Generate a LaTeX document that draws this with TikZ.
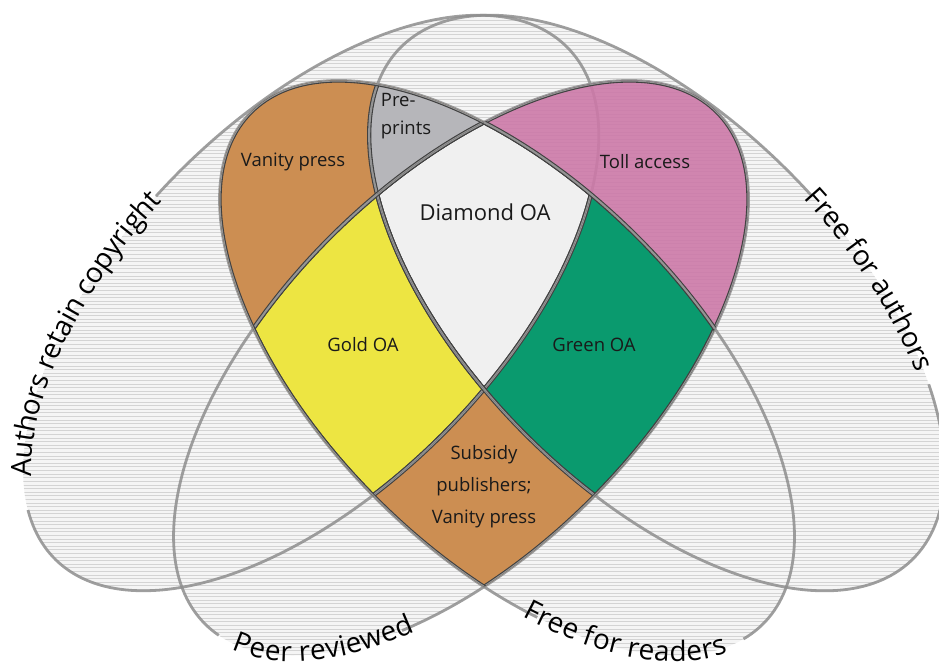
\documentclass[tikz,border=0pt]{standalone}
\usepackage{fontspec}
\setmainfont{Open Sans}
\usetikzlibrary{decorations.text}
\definecolor{cVan}{HTML}{CC8E52}
\definecolor{cGold}{HTML}{EDE542}
\definecolor{cGreen}{HTML}{0A9A6E}
\definecolor{cToll}{HTML}{CC79A8}
\definecolor{cPre}{HTML}{B6B6BA}
\definecolor{cDia}{HTML}{F0F0F0}
\definecolor{hatchbg}{HTML}{F5F5F5}
\definecolor{hatchln}{HTML}{D4D4D4}
\definecolor{outc}{HTML}{8E8E8E}
\definecolor{txt}{HTML}{1A1A1A}
\newcommand\outerfont{\fontsize{28}{30}\selectfont}
\tikzset{
  eA/.style={shift={(311,364)},rotate=45},
  eB/.style={shift={(657,364)},rotate=-45},
  eC/.style={shift={(461,299)},rotate=45},
  eD/.style={shift={(507,299)},rotate=-45},
  outl/.style={draw=outc,line width=2.8pt,draw opacity=0.85},
  dbl/.style={draw=black!75,line width=1.1pt,double=black!42,double distance=2.1pt},
  lab/.style={text=txt,font=\fontsize{18.5}{28}\selectfont,inner sep=0pt},
}
\newcommand\hatchall{\fill[hatchbg] (0,0) rectangle (939,667);
  \foreach \yy in {2,5.6,...,667} \draw[hatchln,line width=1pt] (0,\yy) -- (939,\yy);}
\begin{document}
\begin{tikzpicture}[x=1pt,y=1pt]
\useasboundingbox (0,0) rectangle (939,667);
% hatched background inside each ellipse
\begin{scope}\clip[eA] (0,0) ellipse[x radius=362pt,y radius=186pt];\hatchall\end{scope}
\begin{scope}\clip[eB] (0,0) ellipse[x radius=362pt,y radius=186pt];\hatchall\end{scope}
\begin{scope}\clip[eC] (0,0) ellipse[x radius=362pt,y radius=185pt];\hatchall\end{scope}
\begin{scope}\clip[eD] (0,0) ellipse[x radius=362pt,y radius=185pt];\hatchall\end{scope}
% outer outlines with gaps for labels
\draw[outl,eA] (163.2:362pt and 186pt) arc[start angle=163.2,end angle=455.4,x radius=362pt,y radius=186pt];
\draw[outl,eB] (84.6:362pt and 186pt) arc[start angle=84.6,end angle=406.4,x radius=362pt,y radius=186pt];
\draw[outl,eC] (231.1:362pt and 185pt) arc[start angle=231.1,end angle=545.5,x radius=362pt,y radius=185pt];
\draw[outl,eD] (352.4:362pt and 185pt) arc[start angle=352.4,end angle=663.1,x radius=362pt,y radius=185pt];
% coloured regions (painter's order)
\begin{scope}\clip[eA] (0,0) ellipse[x radius=362pt,y radius=186pt];\clip[eD] (0,0) ellipse[x radius=362pt,y radius=185pt];
  \fill[cVan] (0,0) rectangle (939,667);\end{scope}
\begin{scope}\clip[eA] (0,0) ellipse[x radius=362pt,y radius=186pt];\clip[eB] (0,0) ellipse[x radius=362pt,y radius=186pt];\clip[eD] (0,0) ellipse[x radius=362pt,y radius=185pt];
  \fill[cPre] (0,0) rectangle (939,667);\end{scope}
\begin{scope}\clip[eB] (0,0) ellipse[x radius=362pt,y radius=186pt];\clip[eC] (0,0) ellipse[x radius=362pt,y radius=185pt];
  \fill[cToll,fill opacity=0.9] (0,0) rectangle (939,667);\end{scope}
\begin{scope}\clip[eC] (0,0) ellipse[x radius=362pt,y radius=185pt];\clip[eD] (0,0) ellipse[x radius=362pt,y radius=185pt];
  \fill[cVan] (0,0) rectangle (939,667);\end{scope}
\begin{scope}\clip[eA] (0,0) ellipse[x radius=362pt,y radius=186pt];\clip[eC] (0,0) ellipse[x radius=362pt,y radius=185pt];\clip[eD] (0,0) ellipse[x radius=362pt,y radius=185pt];
  \fill[cGold] (0,0) rectangle (939,667);\end{scope}
\begin{scope}\clip[eB] (0,0) ellipse[x radius=362pt,y radius=186pt];\clip[eC] (0,0) ellipse[x radius=362pt,y radius=185pt];\clip[eD] (0,0) ellipse[x radius=362pt,y radius=185pt];
  \fill[cGreen] (0,0) rectangle (939,667);\end{scope}
\begin{scope}\clip[eA] (0,0) ellipse[x radius=362pt,y radius=186pt];\clip[eB] (0,0) ellipse[x radius=362pt,y radius=186pt];\clip[eC] (0,0) ellipse[x radius=362pt,y radius=185pt];\clip[eD] (0,0) ellipse[x radius=362pt,y radius=185pt];
  \fill[cDia] (0,0) rectangle (939,667);\end{scope}
% double borders inside the coloured area
\begin{scope}\clip[eC] (0,0) ellipse[x radius=362pt,y radius=185pt];\clip[eD] (0,0) ellipse[x radius=362pt,y radius=185pt];
  \draw[dbl,eA] (0,0) ellipse[x radius=362pt,y radius=186pt];
  \draw[dbl,eB] (0,0) ellipse[x radius=362pt,y radius=186pt];
  \draw[dbl,eC] (0,0) ellipse[x radius=362pt,y radius=185pt];
  \draw[dbl,eD] (0,0) ellipse[x radius=362pt,y radius=185pt];
\end{scope}
\begin{scope}\clip[eA] (0,0) ellipse[x radius=362pt,y radius=186pt];\clip[eD] (0,0) ellipse[x radius=362pt,y radius=185pt];
  \draw[dbl,eA] (0,0) ellipse[x radius=362pt,y radius=186pt];
  \draw[dbl,eB] (0,0) ellipse[x radius=362pt,y radius=186pt];
  \draw[dbl,eC] (0,0) ellipse[x radius=362pt,y radius=185pt];
  \draw[dbl,eD] (0,0) ellipse[x radius=362pt,y radius=185pt];
\end{scope}
\begin{scope}\clip[eB] (0,0) ellipse[x radius=362pt,y radius=186pt];\clip[eC] (0,0) ellipse[x radius=362pt,y radius=185pt];
  \draw[dbl,eB] (0,0) ellipse[x radius=362pt,y radius=186pt];
  \draw[dbl,eC] (0,0) ellipse[x radius=362pt,y radius=185pt];
  \draw[dbl,eD] (0,0) ellipse[x radius=362pt,y radius=185pt];
\end{scope}
% region labels
\node[lab] (vanity) at (293,505) {Vanity press};
\node[lab,align=left] (pre) at (406,551) {Pre-\\prints};
\node[lab] (toll) at (645,505) {Toll access};
\node[lab,font=\fontsize{22}{26}\selectfont] (diamond) at (485,455) {Diamond OA};
\node[lab] (gold) at (363,322) {Gold OA};
\node[lab] (green) at (594,322) {Green OA};
\node[lab,align=center,font=\fontsize{18.5}{32}\selectfont] (subsidy) at (484,180) {Subsidy\\publishers;\\Vanity press};
% ellipse labels along the outlines
\path[decorate,decoration={text along path,text align=center,raise=-8pt,text={|\outerfont|Authors retain copyright}}]
  plot[domain=176:83,samples=90,variable=\t] ({311+0.70711*(362*cos(\t)-186*sin(\t))},{364+0.70711*(362*cos(\t)+186*sin(\t))});
\path[decorate,decoration={text along path,text align=center,raise=-8pt,text={|\outerfont|Free for authors}}]
  plot[domain=97:34,samples=90,variable=\t] ({657+0.70711*(362*cos(\t)+186*sin(\t))},{364+0.70711*(-362*cos(\t)+186*sin(\t))});
\path[decorate,decoration={text along path,text align=center,raise=-6pt,text={|\outerfont|Peer reviewed}}]
  plot[domain=174:243,samples=90,variable=\t] ({461+0.70711*(362*cos(\t)-185*sin(\t))},{299+0.70711*(362*cos(\t)+185*sin(\t))});
\path[decorate,decoration={text along path,text align=center,raise=-6pt,text={|\outerfont|Free for readers}}]
  plot[domain=291:364,samples=90,variable=\t] ({507+0.70711*(362*cos(\t)+185*sin(\t))},{299+0.70711*(-362*cos(\t)+185*sin(\t))});
\end{tikzpicture}
\end{document}
